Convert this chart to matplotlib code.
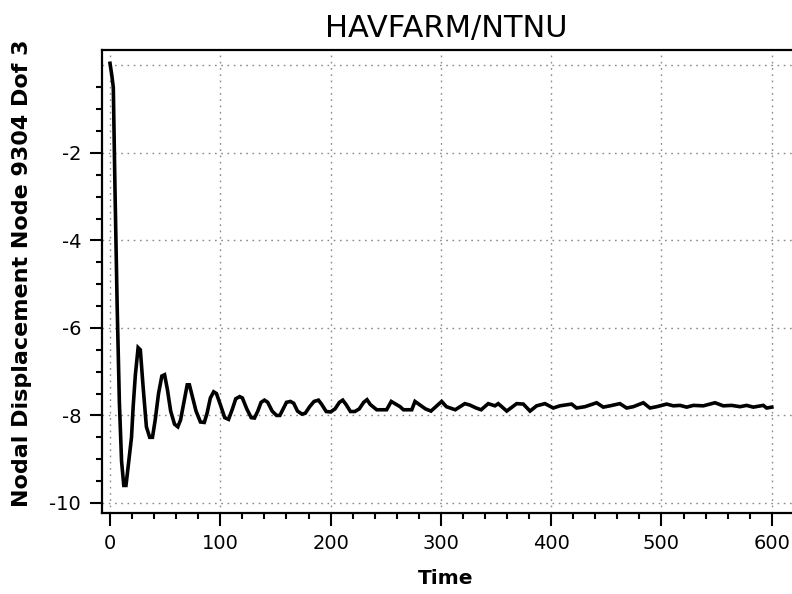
import matplotlib
matplotlib.use("Agg")
import matplotlib.pyplot as plt
from matplotlib.ticker import MultipleLocator, FixedLocator

plt.rcParams['font.family'] = ['DejaVu Sans']
plt.rcParams['axes.unicode_minus'] = False

title = "HAVFARM/NTNU"
xlabel = "Time"
ylabel = "Nodal Displacement Node 9304 Dof 3"

time = [0, 1.5, 3, 4.5, 6.5, 8.5, 10.5, 12.5, 14.5, 17, 19.5, 21, 23, 25.5, 27.5, 30, 33, 36, 38.5,
        41, 44, 47, 49.5, 52, 55, 58.5, 61.5, 64, 67, 70, 72, 75, 78, 82, 85.5, 88, 91, 94, 96.5,
        100, 104, 107.5, 111, 114, 117.5, 120, 124, 128, 131, 134, 137, 140, 143, 147, 151, 154,
        157, 160, 163.5, 166.5, 170, 174, 177, 181, 185, 189, 192, 196, 200, 204, 208, 211, 214,
        218, 222, 226, 230, 233, 236, 241.8, 250.8, 255, 263, 266, 273.6, 276.5, 281, 286, 291,
        300.7, 305, 313, 321.7, 326, 332, 336.5, 342.9, 349, 352, 359.7, 368.7, 374.7, 380.8,
        386.8, 394.3, 401.9, 407.9, 418.5, 423, 430.6, 441.2, 447.2, 453.3, 462.3, 468.4, 474.4,
        483.5, 489.5, 495.6, 504.7, 510.7, 516.8, 522.8, 528.9, 537.9, 548.5, 556, 563.6, 571.2,
        577.2, 583.2, 592.3, 595.3, 600]
displacement = [0.05, -0.2, -0.5, -2.8, -5.5, -7.7, -9.05, -9.6, -9.6, -9.05, -8.5, -7.8, -7.07,
                -6.45, -6.5, -7.34, -8.26, -8.5, -8.5, -8.1, -7.5, -7.1, -7.07, -7.4, -7.9, -8.2,
                -8.26, -8.1, -7.7, -7.3, -7.3, -7.6, -7.9, -8.15, -8.16, -7.95, -7.6, -7.46, -7.5,
                -7.75, -8.05, -8.09, -7.85, -7.62, -7.57, -7.6, -7.85, -8.05, -8.06, -7.9, -7.7,
                -7.65, -7.7, -7.9, -8.0, -8.0, -7.85, -7.7, -7.68, -7.72, -7.9, -7.97, -7.95, -7.8,
                -7.68, -7.65, -7.75, -7.91, -7.92, -7.85, -7.7, -7.65, -7.75, -7.91, -7.91, -7.85,
                -7.7, -7.64, -7.75, -7.87, -7.87, -7.68, -7.80, -7.87, -7.87, -7.68, -7.76, -7.85,
                -7.9, -7.68, -7.80, -7.87, -7.73, -7.76, -7.83, -7.87, -7.73, -7.78, -7.73, -7.9,
                -7.73, -7.74, -7.9, -7.78, -7.73, -7.83, -7.78, -7.74, -7.83, -7.8, -7.71, -7.81,
                -7.78, -7.73, -7.83, -7.8, -7.71, -7.83, -7.80, -7.74, -7.78, -7.77, -7.81, -7.77,
                -7.78, -7.71, -7.78, -7.77, -7.8, -7.77, -7.81, -7.77, -7.83, -7.81]

x_major = [0, 100, 200, 300, 400, 500, 600]
y_major = [-10, -8, -6, -4, -2]

W, H = 792, 594
fig = plt.figure(figsize=(W / 100, H / 100), dpi=100)
ax = fig.add_axes([102 / W, 1 - 513 / H, (815 - 102) / W, (513 - 50) / H])

ax.plot(time, displacement, color='black', lw=2.6, solid_joinstyle='miter')

ax.set_xlim(-7.25, (815 - 110) / 1.103)
ax.set_ylim(-10.23, 0.354)
ax.xaxis.set_major_locator(FixedLocator(x_major))
ax.xaxis.set_minor_locator(MultipleLocator(20))
ax.yaxis.set_major_locator(FixedLocator(y_major))
ax.yaxis.set_minor_locator(FixedLocator([v / 2 for v in range(-20, 0)]))

grid_kw = dict(color='#8a8a8a', lw=1.0, ls=(0, (1.2, 3.3)))
ax.grid(True, which='major', **grid_kw)
ax.axhline(0, **grid_kw, zorder=0.5)
ax.set_axisbelow(True)

for s in ax.spines.values():
    s.set_linewidth(1.6)
ax.spines['right'].set_visible(False)
ax.tick_params(which='major', length=9, width=1.5, direction='out', labelsize=14, pad=6)
ax.tick_params(which='minor', length=4.5, width=1.5, direction='out')

fig.text(446 / W, 1 - 28 / H, title, ha='center', va='center', fontsize=22)
fig.text(446 / W, 1 - 579 / H, xlabel, ha='center', va='center', fontsize=14.5, fontweight='bold')
fig.text(22 / W, 1 - 273 / H, ylabel, ha='center', va='center', rotation=90, fontsize=16,
         fontweight='bold')

fig.savefig("out.png", dpi=100)
